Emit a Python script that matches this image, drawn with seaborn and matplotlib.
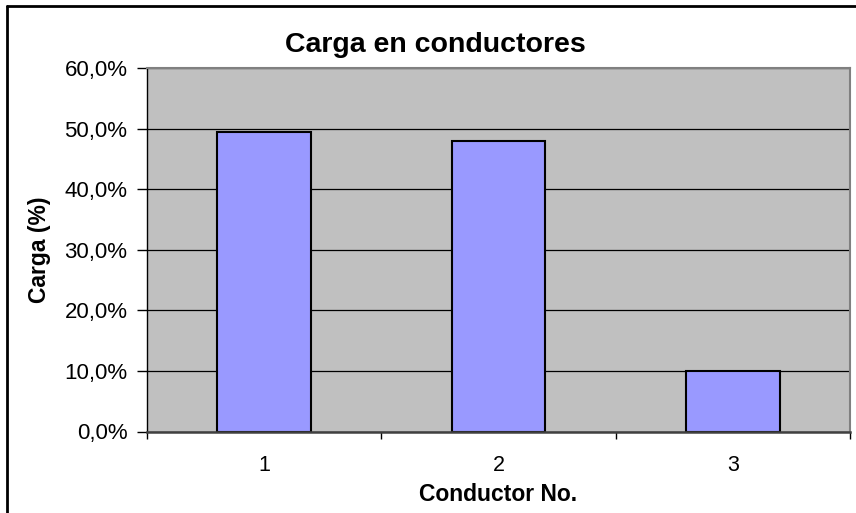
import matplotlib
matplotlib.use("Agg")
import matplotlib.pyplot as plt
import seaborn as sns
import pandas as pd
from matplotlib.ticker import FuncFormatter, FixedLocator
from matplotlib.lines import Line2D

# datos del grafico
conductores = ["1", "2", "3"]
carga = [0.495, 0.480, 0.100]

titulo = "Carga en conductores"
eje_x = "Conductor No."
eje_y = "Carga (%)"

df = pd.DataFrame({"conductor": conductores, "carga": carga})

sns.set_theme(style="white")
plt.rcParams["font.family"] = ["Liberation Sans", "DejaVu Sans"]
plt.rcParams["text.color"] = "black"
plt.rcParams["axes.labelcolor"] = "black"
plt.rcParams["xtick.color"] = "black"
plt.rcParams["ytick.color"] = "black"

fig = plt.figure(figsize=(8.56, 5.13), dpi=100)
ax = fig.add_axes([147 / 856, 1 - 431.5 / 513, (850 - 147) / 856, (431.5 - 68) / 513])
ax.set_facecolor("#C0C0C0")

sns.barplot(data=df, x="conductor", y="carga", color="#9999FF",
            edgecolor="black", linewidth=1.5, width=0.4, saturation=1, ax=ax)

ax.set_ylim(0, 0.6)
ax.set_xlim(-0.5, 2.5)
ax.set_yticks([0, 0.1, 0.2, 0.3, 0.4, 0.5, 0.6])
ax.yaxis.set_major_formatter(FuncFormatter(lambda v, p: f"{v * 100:.1f}%".replace(".", ",")))
ax.yaxis.grid(True, color="black", linewidth=0.9)
ax.set_axisbelow(True)

# ticks entre categorias
ax.xaxis.set_minor_locator(FixedLocator([-0.5, 0.5, 1.5, 2.5]))
ax.tick_params(axis="x", which="major", length=0, pad=17, labelsize=15.5, colors="black")
ax.tick_params(axis="x", which="minor", length=5, width=1, color="black", direction="out", bottom=True)
ax.tick_params(axis="y", which="major", length=7, width=1, color="black", direction="out",
               left=True, pad=7, labelsize=16, labelcolor="black")

for s in ["top", "right"]:
    ax.spines[s].set_color("#808080")
    ax.spines[s].set_linewidth(1.5)
ax.spines["left"].set_color("black")
ax.spines["left"].set_linewidth(1)
ax.spines["bottom"].set_color("#404040")
ax.spines["bottom"].set_linewidth(1.8)

ax.set_xlabel(eje_x, fontsize=16.5, fontweight="bold", labelpad=5, color="black")
ax.set_ylabel(eje_y, fontsize=16.5, fontweight="bold", labelpad=10, color="black")
fig.text(435 / 856, 1 - 45 / 513, titulo, ha="center", va="center",
         fontsize=20.5, fontweight="bold", color="black")

# marco de la figura (solo arriba e izquierda visibles)
fig.add_artist(Line2D([7 / 856, 7 / 856], [0, 1 - 6 / 513], color="black", linewidth=2))
fig.add_artist(Line2D([7 / 856, 1], [1 - 6 / 513, 1 - 6 / 513], color="black", linewidth=2))

fig.savefig("out.png", dpi=100)
